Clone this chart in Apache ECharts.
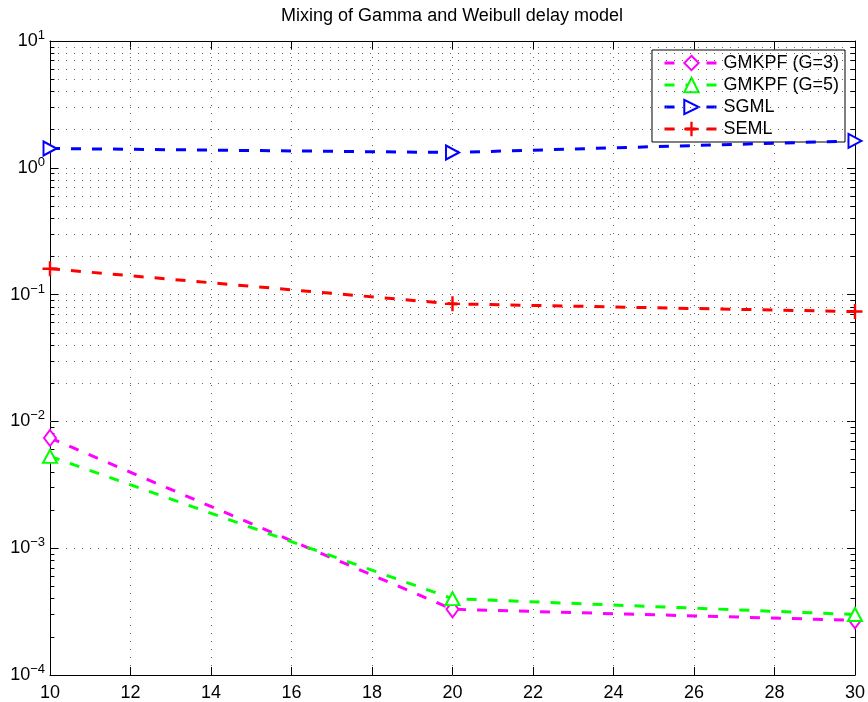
<!DOCTYPE html>
<html>
<head>
<meta charset="utf-8">
<script src="https://cdn.jsdelivr.net/npm/echarts@6/dist/echarts.min.js"></script>
<style>
  html, body { margin: 0; padding: 0; background: #fff; }
  #chart { width: 868px; height: 702px; }
</style>
</head>
<body>
<div id="chart"></div>
<script>
// 数据
var xValues = [10, 20, 30];
var gmkpfG3 = [0.0074, 0.00033, 0.00027];
var gmkpfG5 = [0.0053, 0.00040, 0.00030];
var sgml = [1.42, 1.32, 1.63];
var seml = [0.16, 0.0845, 0.0735];
var seriesNames = ['GMKPF (G=3)', 'GMKPF (G=5)', 'SGML', 'SEML'];
var xTicks = [10, 12, 14, 16, 18, 20, 22, 24, 26, 28, 30];
var yDecades = [-4, -3, -2, -1, 0, 1];

var font = 'Liberation Sans, Arial, Helvetica, sans-serif';
var dotted = [1, 7];
var gridColor = '#666';

function pairs(ys) {
    return xValues.map(function (x, i) { return [x, ys[i]]; });
}

// 对数坐标的次网格线和次刻度 (2..9 x 10^k)
var minorLines = [];
for (var k = 0; k < yDecades.length - 1; k++) {
    for (var m = 2; m <= 9; m++) {
        var v = m * Math.pow(10, yDecades[k]);
        minorLines.push({ yAxis: v, lineStyle: { color: gridColor, width: 1, type: dotted } });
        minorLines.push([{ coord: [xTicks[0], v] }, { coord: [xTicks[0] + 0.11, v], lineStyle: { color: '#000', width: 1, type: 'solid' } }]);
        minorLines.push([{ coord: [xTicks[xTicks.length - 1] - 0.11, v] }, { coord: [xTicks[xTicks.length - 1], v], lineStyle: { color: '#000', width: 1, type: 'solid' } }]);
    }
}

function lineSeries(name, data, color, symbol, size, rotate, border) {
    return {
        name: name,
        type: 'line',
        data: pairs(data),
        clip: false,
        symbol: symbol,
        symbolSize: size,
        symbolRotate: rotate || 0,
        showAllSymbol: true,
        lineStyle: { color: color, width: 3, type: [10, 11] },
        itemStyle: { color: color, borderColor: color, borderWidth: border === undefined ? 2 : border },
        z: 5,
        animation: false
    };
}

var dom = document.getElementById('chart');
var myChart = echarts.init(dom, null, { renderer: 'canvas' });
var option = {
    backgroundColor: '#fff',
    animation: false,
    textStyle: { fontFamily: font },
    title: {
        text: 'Mixing of Gamma and Weibull delay model',
        left: 452,
        textAlign: 'center',
        top: 7,
        padding: 0,
        textStyle: { fontSize: 18, fontWeight: 'normal', color: '#000', fontFamily: font }
    },
    grid: { left: 50, right: 13, top: 41, bottom: 27, containLabel: false },
    legend: {
        data: seriesNames,
        orient: 'vertical',
        right: 23,
        top: 50,
        padding: [4, 6, 4, 11],
        itemGap: 4,
        itemWidth: 54,
        itemHeight: 18,
        backgroundColor: '#fff',
        borderColor: '#000',
        borderWidth: 1,
        borderRadius: 0,
        lineStyle: { width: 3 },
        textStyle: { fontSize: 18, color: '#000', fontFamily: font }
    },
    xAxis: [{
        type: 'value',
        min: 10, max: 30, interval: 2,
        position: 'bottom',
        axisLine: { show: true, onZero: false, lineStyle: { color: '#000', width: 1 } },
        axisTick: { show: true, inside: true, length: 8, lineStyle: { color: '#000' } },
        axisLabel: { margin: 9, fontSize: 18, color: '#000', fontFamily: font },
        splitLine: { show: true, lineStyle: { color: gridColor, width: 1, type: dotted } }
    }, {
        type: 'value',
        min: 10, max: 30, interval: 2,
        position: 'top',
        axisLine: { show: true, onZero: false, lineStyle: { color: '#000', width: 1 } },
        axisTick: { show: true, inside: true, length: 8, lineStyle: { color: '#000' } },
        axisLabel: { show: false },
        splitLine: { show: false }
    }],
    yAxis: [{
        type: 'log',
        logBase: 10,
        min: 1e-4, max: 10,
        position: 'left',
        axisLine: { show: true, onZero: false, lineStyle: { color: '#000', width: 1 } },
        axisTick: { show: true, inside: true, length: 8, lineStyle: { color: '#000' } },
        axisLabel: {
            margin: 5,
            color: '#000',
            formatter: function (val) {
                var e = Math.round(Math.log10(val));
                return '{b|10}{s|' + (e < 0 ? '\u2212' + (-e) : e) + '}';
            },
            rich: {
                b: { fontSize: 18, lineHeight: 18, verticalAlign: 'bottom', fontFamily: font, color: '#000' },
                s: { fontSize: 13, lineHeight: 13, padding: [0, 0, 11, 0], fontFamily: font, color: '#000' }
            }
        },
        splitLine: { show: true, lineStyle: { color: gridColor, width: 1, type: dotted } }
    }, {
        type: 'log',
        logBase: 10,
        min: 1e-4, max: 10,
        position: 'right',
        axisLine: { show: true, onZero: false, lineStyle: { color: '#000', width: 1 } },
        axisTick: { show: true, inside: true, length: 8, lineStyle: { color: '#000' } },
        axisLabel: { show: false },
        splitLine: { show: false }
    }],
    series: [
        {
            name: 'grid',
            type: 'line',
            data: [],
            silent: true,
            z: 1,
            markLine: {
                silent: true,
                symbol: 'none',
                animation: false,
                label: { show: false },
                emphasis: { disabled: true },
                data: minorLines
            }
        },
        lineSeries(seriesNames[0], gmkpfG3, '#ff00ff', 'emptyDiamond', [12, 16]),
        lineSeries(seriesNames[1], gmkpfG5, '#00ff00', 'emptyTriangle', [14, 13]),
        lineSeries(seriesNames[2], sgml, '#0000ff', 'emptyTriangle', [14, 13], -90),
        lineSeries(seriesNames[3], seml, '#ff0000', 'path://M4.2,0h1.6v4.2h4.2v1.6h-4.2v4.2h-1.6v-4.2h-4.2v-1.6h4.2z', 15, 0, 0)
    ]
};

if (option && typeof option === "object") {
    myChart.setOption(option, true);
}
</script>
</body>
</html>
